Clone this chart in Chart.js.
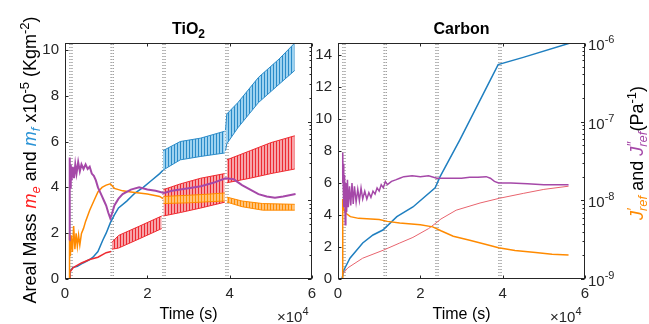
<!DOCTYPE html>
<html>
<head>
<meta charset="utf-8">
<script src="https://cdn.jsdelivr.net/npm/chart.js@4.4.1/dist/chart.umd.min.js"></script>
<style>
  body { margin: 0; background: #fff; width: 649px; height: 324px; overflow: hidden; position: relative; }
  canvas { position: absolute; top: 0; }
  #tio2 { left: 0; }
  #carbon { left: 300px; }
</style>
</head>
<body>
<canvas id="tio2" width="330" height="324"></canvas>
<canvas id="carbon" width="349" height="324"></canvas>
<script>
// dotted event markers (time, s)
const eventTimes = [1200, 1700, 11200, 11700, 23800, 24300, 39100, 39600];
const xTicks = [0, 20000, 40000, 60000];

// ---- TiO2 panel ----
// m_f (blue), smooth part then oscillating bands (upper/lower envelope)
const tio2BlueT = [0, 1000, 1200, 1900, 3000, 4400, 6000, 6800, 8000, 9200, 10000, 11000, 12000, 13000, 15000, 17000, 19000, 21000, 23000, 23800];
const tio2BlueM = [0, 0, 0.35, 0.5, 0.55, 0.7, 0.85, 0.95, 1.2, 1.7, 2.0, 2.45, 2.8, 3.1, 3.4, 3.75, 4.0, 4.3, 4.6, 4.75];
const tio2BlueBand1T = [23800, 28000, 33000, 38800];
const tio2BlueBand1Up = [5.6, 6.0, 6.15, 6.45];
const tio2BlueBand1Lo = [4.75, 5.2, 5.35, 5.5];
const tio2BlueBand2T = [39000, 39300, 42000, 47000, 52000, 55800];
const tio2BlueBand2Up = [6.5, 7.2, 7.7, 8.8, 9.6, 10.3];
const tio2BlueBand2Lo = [5.6, 5.9, 6.6, 7.7, 8.5, 9.1];

// m_e (red)
const tio2RedT = [0, 1000, 1200, 2000, 4000, 6000, 8000, 10000, 11200];
const tio2RedM = [0, 0, 0.3, 0.5, 0.7, 0.85, 0.95, 1.15, 1.2];
const tio2RedBand1T = [11400, 13000, 18000, 23500];
const tio2RedBand1Up = [1.6, 1.9, 2.3, 2.75];
const tio2RedBand1Lo = [1.3, 1.35, 1.75, 2.2];
const tio2RedBand2T = [23900, 28000, 33000, 38800];
const tio2RedBand2Up = [3.9, 4.15, 4.4, 4.6];
const tio2RedBand2Lo = [2.75, 2.9, 3.1, 3.35];
const tio2RedBand3T = [39300, 45000, 50000, 55800];
const tio2RedBand3Up = [5.2, 5.6, 5.95, 6.25];
const tio2RedBand3Lo = [4.2, 4.4, 4.6, 4.8];

// J'ref (orange), Pa^-1
const tio2OrangeT = [0, 1000, 1100, 1300, 1500, 1800, 2100, 2400, 2700, 3000, 3300, 3600, 4000, 4500, 5000, 6000, 7000, 8000, 9000, 10000, 11000, 12000, 14000, 16000, 18000, 20000, 23000, 23800];
const tio2OrangeJ = [1e-9, 1e-9, 3.8e-9, 1.95e-9, 3.6e-9, 2.2e-9, 4.7e-9, 2.4e-9, 3.8e-9, 2.6e-9, 3.6e-9, 2.7e-9, 3.8e-9, 4.4e-9, 5.4e-9, 7.5e-9, 9.8e-9, 1.28e-8, 1.46e-8, 1.56e-8, 1.62e-8, 1.42e-8, 1.32e-8, 1.28e-8, 1.24e-8, 1.2e-8, 1.12e-8, 1.05e-8];
const tio2OrangeBand1T = [23900, 30000, 35000, 38800];
const tio2OrangeBand1Up = [1.12e-8, 1.16e-8, 1.2e-8, 1.24e-8];
const tio2OrangeBand1Lo = [9.1e-9, 9.3e-9, 9.6e-9, 9.8e-9];
const tio2OrangeBand2T = [39300, 43000, 48000, 55800];
const tio2OrangeBand2Up = [1.1e-8, 9.8e-9, 9.1e-9, 8.9e-9];
const tio2OrangeBand2Lo = [9.5e-9, 8.3e-9, 7.5e-9, 7.5e-9];

// J''ref (purple)
const tio2PurpleT = [1100, 1150, 1250, 1400, 1600, 1900, 2200, 2500, 2800, 3200, 3600, 4000, 4500, 5000, 5500, 6000, 6500, 7000, 7500, 8000, 8500, 9000, 9500, 10000, 10500, 11000, 11500, 12000, 13000, 14000, 16000, 18000, 20000, 22000, 24000, 26000, 28000, 30000, 33000, 36000, 39000, 41000, 43000, 45000, 47000, 49000, 51000, 53000, 56000];
const tio2PurpleJ = [3.1e-9, 3.5e-8, 1.46e-8, 2.86e-8, 1.79e-8, 2.67e-8, 1.91e-8, 2.86e-8, 2.19e-8, 3.06e-8, 2.34e-8, 2.86e-8, 2.5e-8, 2.86e-8, 2.5e-8, 2.67e-8, 2.19e-8, 2.05e-8, 1.79e-8, 1.46e-8, 1.28e-8, 1.12e-8, 9.8e-9, 8.6e-9, 7.0e-9, 5.9e-9, 7.0e-9, 8.6e-9, 1.05e-8, 1.2e-8, 1.37e-8, 1.46e-8, 1.37e-8, 1.32e-8, 1.24e-8, 1.32e-8, 1.37e-8, 1.42e-8, 1.51e-8, 1.67e-8, 1.91e-8, 1.85e-8, 1.56e-8, 1.37e-8, 1.2e-8, 1.12e-8, 1.08e-8, 1.12e-8, 1.2e-8];

// ---- Carbon panel ----
const carbonBlueT = [0, 800, 1000, 1500, 2900, 6000, 8500, 10900, 14300, 18200, 23600, 24800, 29600, 38900, 45000, 56400];
const carbonBlueM = [0, 0, 0.05, 0.6, 1.3, 2.25, 2.75, 3.06, 3.9, 4.5, 5.7, 6.4, 8.7, 13.4, 13.85, 14.75];
const carbonRedT = [1000, 1100, 2400, 6000, 11000, 15000, 18200, 22000, 23800, 25000, 28700, 34500, 39300, 45000, 50000, 56000];
const carbonRedM = [0, 0.3, 0.7, 1.3, 1.8, 2.25, 2.6, 3.15, 3.5, 3.75, 4.3, 4.75, 5.05, 5.35, 5.6, 5.8];
const carbonOrangeT = [1000, 1100, 1200, 1500, 2000, 3000, 5000, 8000, 10000, 12000, 15000, 20000, 23000, 25000, 28000, 32000, 36000, 39000, 43000, 48000, 52000, 56000];
const carbonOrangeJ = [1e-9, 1.04e-8, 8.6e-9, 7.5e-9, 6.8e-9, 6.2e-9, 5.9e-9, 5.8e-9, 5.7e-9, 5.4e-9, 5.15e-9, 4.9e-9, 4.6e-9, 4.1e-9, 3.5e-9, 3.1e-9, 2.75e-9, 2.5e-9, 2.3e-9, 2.17e-9, 2.07e-9, 2.02e-9];
const carbonPurpleT = [1100, 1150, 1250, 1350, 1450, 1600, 1750, 1900, 2100, 2300, 2500, 2800, 3100, 3400, 3700, 4000, 4400, 4800, 5200, 5600, 6000, 6500, 7000, 7500, 8000, 8500, 9000, 9500, 10000, 10500, 11000, 11500, 12000, 13000, 14000, 15000, 16000, 18000, 20000, 22000, 24000, 26000, 28000, 30000, 32000, 34000, 36000, 37000, 38000, 39000, 42000, 46000, 50000, 56000];
const carbonPurpleJ = [1.66e-8, 4.05e-8, 1.66e-8, 2.91e-8, 8.2e-9, 2.1e-8, 4.9e-9, 1.66e-8, 7.1e-9, 1.82e-8, 8.2e-9, 1.51e-8, 8.6e-9, 1.66e-8, 9.0e-9, 1.51e-8, 9.5e-9, 1.38e-8, 9.9e-9, 1.44e-8, 1.04e-8, 1.31e-8, 1.04e-8, 1.25e-8, 1.09e-8, 1.31e-8, 1.2e-8, 1.44e-8, 1.31e-8, 1.58e-8, 1.44e-8, 1.74e-8, 1.58e-8, 1.74e-8, 1.82e-8, 1.91e-8, 2.0e-8, 2.05e-8, 2.0e-8, 2.05e-8, 1.91e-8, 1.91e-8, 1.91e-8, 1.91e-8, 1.96e-8, 1.96e-8, 2.0e-8, 1.91e-8, 1.74e-8, 1.66e-8, 1.66e-8, 1.62e-8, 1.58e-8, 1.58e-8];

const FONT = '"Liberation Sans", Arial, Helvetica, sans-serif';
const BLUE = '#1f7fc0', RED = '#ee2a30', ORANGE = '#ff8a00', PURPLE = '#a548a8';
const AXIS = '#262626';

function stripes(dark, light) {
    const c = document.createElement('canvas');
    c.width = 3; c.height = 1;
    const g = c.getContext('2d');
    g.fillStyle = light; g.fillRect(0, 0, 3, 1);
    g.fillStyle = dark; g.fillRect(0, 0, 1, 1);
    return g.createPattern(c, 'repeat');
}

const pts = (t, v) => t.map((x, i) => ({ x: x, y: v[i] }));

function line(t, v, color, width, axis) {
    return { data: pts(t, v), borderColor: color, borderWidth: width, pointRadius: 0, tension: 0, fill: false, yAxisID: axis };
}

function band(t, up, lo, edge, pattern, axis) {
    return [
        { data: pts(t, up), borderColor: edge, borderWidth: 1, pointRadius: 0, tension: 0, fill: false, yAxisID: axis },
        { data: pts(t, lo), borderColor: edge, borderWidth: 1, pointRadius: 0, tension: 0, fill: '-1', backgroundColor: pattern, yAxisID: axis }
    ];
}

function markers(yMax) {
    return eventTimes.map(t => ({
        data: [{ x: t, y: 0 }, { x: t, y: yMax }],
        borderColor: '#707070', borderWidth: 1, borderDash: [1, 2], pointRadius: 0, fill: false, yAxisID: 'y'
    }));
}

// text with sub/superscripts: [text, size, style, color, dy, noAdvance]
function richText(ctx, segs, x, y, align) {
    let w = 0;
    segs.forEach(s => {
        ctx.font = `${s[2] || ''} ${s[1]}px ${FONT}`;
        if (!s[5]) w += ctx.measureText(s[0]).width;
    });
    let cx = align === 'center' ? x - w / 2 : (align === 'right' ? x - w : x);
    ctx.textBaseline = 'alphabetic';
    ctx.textAlign = 'left';
    segs.forEach(s => {
        ctx.font = `${s[2] || ''} ${s[1]}px ${FONT}`;
        ctx.fillStyle = s[3] || '#000';
        ctx.fillText(s[0], cx, y + (s[4] || 0));
        if (!s[5]) cx += ctx.measureText(s[0]).width;
    });
}

// box with inside ticks, like the original
const frame = {
    id: 'frame',
    afterDatasetsDraw(chart) {
        const { ctx, chartArea: a, scales } = chart;
        const L = Math.round(a.left) + 0.5, R = Math.round(a.right) - 0.5;
        const T = Math.round(a.top) + 0.5, B = Math.round(a.bottom) - 0.5;
        ctx.save();
        ctx.strokeStyle = AXIS;
        ctx.lineWidth = 1;
        ctx.setLineDash([]);
        ctx.strokeRect(L, T, R - L, B - T);
        ctx.beginPath();
        xTicks.forEach(v => {
            const px = Math.round(scales.x.getPixelForValue(v)) + 0.5;
            ctx.moveTo(px, B); ctx.lineTo(px, B - 3);
            ctx.moveTo(px, T); ctx.lineTo(px, T + 3);
        });
        scales.y.ticks.forEach(tk => {
            const py = Math.round(scales.y.getPixelForValue(tk.value)) + 0.5;
            ctx.moveTo(L, py); ctx.lineTo(L + 3, py);
        });
        for (let d = -9; d <= -6; d++) {
            for (let k = 1; k <= 9; k++) {
                const v = k * Math.pow(10, d);
                if (v > 1e-6 * 1.0001) break;
                const py = Math.round(scales.j.getPixelForValue(v)) + 0.5;
                const len = k === 1 ? 3.5 : 2;
                ctx.moveTo(R, py); ctx.lineTo(R - len, py);
            }
        }
        ctx.stroke();
        ctx.restore();
    }
};

function yLabelLeft(ctx) {
    ctx.save();
    ctx.translate(36, 160);
    ctx.rotate(-Math.PI / 2);
    richText(ctx, [
        ['Areal Mass ', 18], ['m', 18, 'italic', '#ff1f1f'], ['e', 13, 'italic', '#ff1f1f', 4],
        [' and ', 18], ['m', 18, 'italic', '#2a93d6'], ['f', 13, 'italic', '#2a93d6', 4],
        [' x10', 18], ['-5', 13, '', '#000', -7], [' (Kgm', 18], ['-2', 13, '', '#000', -7], [')', 18]
    ], 0, 0, 'center');
    ctx.restore();
}

function yLabelRight(ctx, x) {
    ctx.save();
    ctx.translate(x, 153);
    ctx.rotate(-Math.PI / 2);
    richText(ctx, [
        ['J', 18, 'italic', ORANGE], ['\u2032', 14, 'italic', ORANGE, -6, true], ['ref', 13, 'italic', ORANGE, 4],
        [' and ', 18], ['J', 18, 'italic', PURPLE], ['\u2033', 14, 'italic', PURPLE, -6, true], ['ref', 13, 'italic', PURPLE, 4],
        ['(Pa', 18], ['-1', 13, '', '#000', -7], [')', 18]
    ], 0, 0, 'center');
    ctx.restore();
}

function texts(title) {
    return {
        id: 'texts',
        afterDraw(chart) {
            const { ctx, chartArea: a, scales } = chart;
            const cx = (a.left + a.right) / 2;
            ctx.save();
            richText(ctx, title, cx, 34, 'center');
            richText(ctx, [['Time (s)', 16]], cx, 319, 'center');
            richText(ctx, [['\u00d710', 15, '', AXIS], ['4', 11, '', AXIS, -7]], a.right - 35, 322, 'left');
            if (chart.canvas.id === 'tio2') {
                yLabelLeft(ctx);
            } else {
                [-9, -8, -7, -6].forEach(d => {
                    const py = scales.j.getPixelForValue(Math.pow(10, d));
                    richText(ctx, [['10', 15, '', AXIS], [String(d), 11, '', AXIS, -7]], a.right + 3, py + 7, 'left');
                });
                yLabelRight(ctx, 343);
            }
            ctx.restore();
        }
    };
}

function options(yMax, yWidth, padRight) {
    return {
        responsive: false,
        animation: false,
        devicePixelRatio: 1,
        layout: { padding: { top: 43, right: padRight, left: 0, bottom: 0 } },
        plugins: { legend: { display: false }, tooltip: { enabled: false } },
        scales: {
            x: {
                type: 'linear', min: 0, max: 60000,
                grid: { display: false, drawTicks: false }, border: { display: false },
                ticks: { stepSize: 20000, callback: v => v / 1e4, font: { size: 15, family: FONT }, color: AXIS, padding: 6, maxRotation: 0 },
                afterFit: s => { s.height = 45; }
            },
            y: {
                type: 'linear', min: 0, max: yMax,
                grid: { display: false, drawTicks: false }, border: { display: false },
                ticks: { stepSize: 2, includeBounds: false, font: { size: 15, family: FONT }, color: AXIS, padding: 6,
                         callback: v => (v % 2 === 0 ? v : '') },
                afterFit: s => { s.width = yWidth; }
            },
            j: { type: 'logarithmic', display: false, position: 'right', min: 1e-9, max: 1e-6 }
        }
    };
}

const blueFill = stripes('#2b8bc8', '#9dd2f0');
const redFill = stripes('#ec2a32', '#f7a3a8');
const orangeFill = stripes('#ff8c00', '#ffc37a');

const tio2Sets = [].concat(
    [line(tio2PurpleT, tio2PurpleJ, PURPLE, 2, 'j')],
    [line(tio2OrangeT, tio2OrangeJ, ORANGE, 1.5, 'j')],
    band(tio2OrangeBand1T, tio2OrangeBand1Up, tio2OrangeBand1Lo, ORANGE, orangeFill, 'j'),
    band(tio2OrangeBand2T, tio2OrangeBand2Up, tio2OrangeBand2Lo, ORANGE, orangeFill, 'j'),
    [line(tio2RedT, tio2RedM, RED, 1.5, 'y')],
    band(tio2RedBand1T, tio2RedBand1Up, tio2RedBand1Lo, RED, redFill, 'y'),
    band(tio2RedBand2T, tio2RedBand2Up, tio2RedBand2Lo, RED, redFill, 'y'),
    band(tio2RedBand3T, tio2RedBand3Up, tio2RedBand3Lo, RED, redFill, 'y'),
    [line(tio2BlueT, tio2BlueM, BLUE, 1.5, 'y')],
    band(tio2BlueBand1T, tio2BlueBand1Up, tio2BlueBand1Lo, '#2b8bc8', blueFill, 'y'),
    band(tio2BlueBand2T, tio2BlueBand2Up, tio2BlueBand2Lo, '#2b8bc8', blueFill, 'y'),
    markers(10.3)
);

const carbonSets = [].concat(
    [line(carbonPurpleT, carbonPurpleJ, PURPLE, 1.5, 'j')],
    [line(carbonOrangeT, carbonOrangeJ, ORANGE, 1.5, 'j')],
    [line(carbonRedT, carbonRedM, '#e8646e', 1, 'y')],
    [line(carbonBlueT, carbonBlueM, BLUE, 1.5, 'y')],
    markers(14.75)
);

new Chart(document.getElementById('tio2'), {
    type: 'line',
    data: { datasets: tio2Sets },
    options: options(10.3, 65, 18),
    plugins: [frame, texts([['TiO', 16, 'bold'], ['2', 12, 'bold', '#000', 4]])]
});

new Chart(document.getElementById('carbon'), {
    type: 'line',
    data: { datasets: carbonSets },
    options: options(14.75, 38, 64),
    plugins: [frame, texts([['Carbon', 16, 'bold']])]
});
</script>
</body>
</html>
